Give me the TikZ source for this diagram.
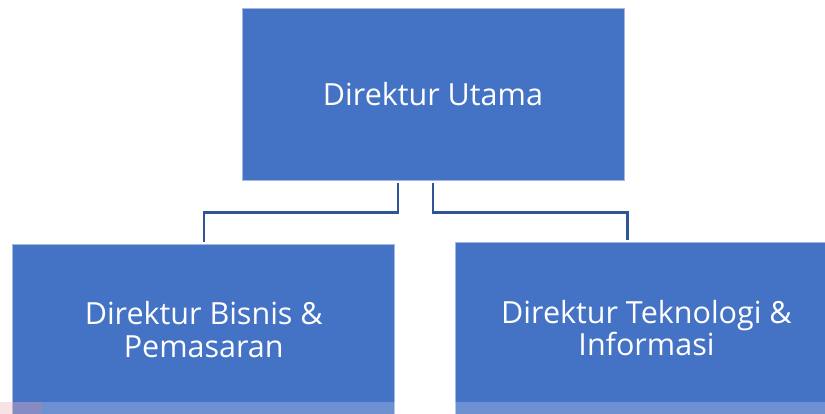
\documentclass[tikz,border=0pt]{standalone}
\usepackage{fontspec}
\setmainfont{Open Sans}
\usepackage{tikz}
\usetikzlibrary{
  arrows.meta,
  positioning,
  calc
}
\definecolor{OfficeBlue}{HTML}{4472C4}
\definecolor{EdgeBlue}{HTML}{A3B9E2}
\definecolor{LinkBlue}{HTML}{2F5597}
\definecolor{MarkPink}{HTML}{E07A8C}

\begin{document}
\begin{tikzpicture}[
  x=1pt,
  y=-1pt,
  office/.style={
    rectangle,
    fill=OfficeBlue,
    draw=EdgeBlue,
    line width=0.8pt,
    minimum width=382pt,
    minimum height=172pt,
    align=center,
    text=white,
    font=\fontsize{30.5}{32.5}\selectfont
  },
  link/.style={draw=LinkBlue,line width=2.4pt,shorten <=3pt,shorten >=2pt}
]
\clip (0,0) rectangle (825,414);
\useasboundingbox (0,0) rectangle (825,414);

\node[office] (utama) at (433,94) {Direktur Utama};
\node[office,minimum height=170pt] (bisnis) at (203.75,329.5)
  {Direktur Bisnis \&\\Pemasaran};
\node[office] (teknologi) at (646.5,328)
  {Direktur Teknologi \&\\Informasi};

\draw[link] ([xshift=-35pt]utama.south) -- ++(0,32) -| (bisnis.north);
\draw[link] (utama.south) -- ++(0,32) -| ([xshift=-19pt]teknologi.north);

% faded strip along the lower edge
\fill[white,opacity=0.22] (0,402) rectangle (825,414);
\fill[MarkPink,opacity=0.22] (0,402) rectangle (42,414);
\end{tikzpicture}
\end{document}
